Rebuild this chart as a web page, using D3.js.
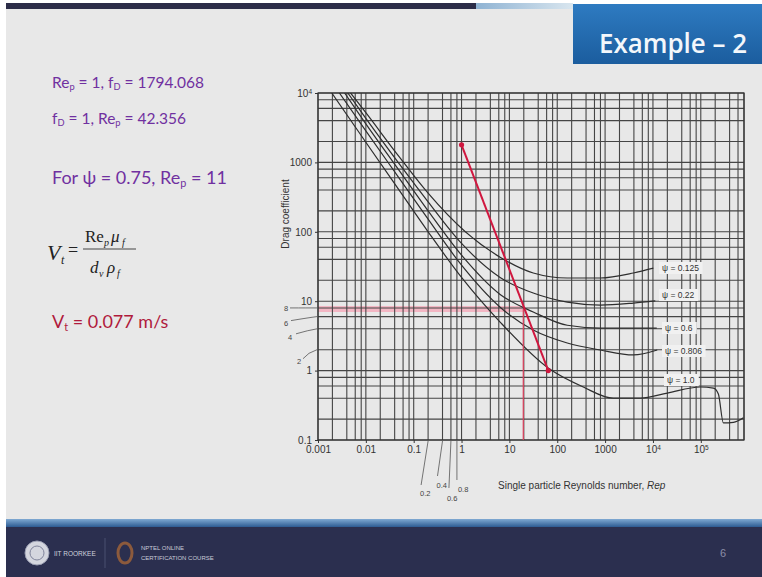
<!DOCTYPE html>
<html>
<head>
<meta charset="utf-8">
<script src="https://cdn.jsdelivr.net/npm/d3@7"></script>
<style>
  body { margin: 0; background: #fff; }
  svg { display: block; font-family: "Liberation Sans", Arial, sans-serif; }
</style>
</head>
<body>
<svg id="slide" width="762" height="577"></svg>
<script>
// axis ticks
const xTicks = [0.001, 0.01, 0.1, 1, 10, 100, 1000, 1e4, 1e5];
const xTickLabels = ["0.001", "0.01", "0.1", "1", "10", "100", "1000", "10^4", "10^5"];
const yTicks = [0.1, 1, 10, 100, 1000, 1e4];
const yTickLabels = ["0.1", "1", "10", "100", "1000", "10^4"];
const gridSteps = [1, 2, 4, 6, 8];
const yMinorMarks = [8, 6, 4, 2];
const xMinorMarks = [0.2, 0.4, 0.6, 0.8];

// drag curves (Re, Cd)
const psiLabels = ["\u03c8 = 0.125", "\u03c8 = 0.22", "\u03c8 = 0.6", "\u03c8 = 0.806", "\u03c8 = 1.0"];
const rePsi0125 = [0.0048, 0.01, 0.05, 0.2, 1.2, 6.4, 31.5, 162, 795, 3900, 10200];
const cdPsi0125 = [10000, 5200, 1200, 360, 100, 43, 25.5, 21.6, 21.6, 25.5, 30];
const rePsi022 = [0.0042, 0.01, 0.05, 0.2, 1, 6.4, 31.5, 162, 795, 3900, 11200];
const cdPsi022 = [10000, 4300, 950, 270, 68, 22, 13.1, 9.7, 8.8, 9.4, 10.1];
const rePsi06 = [0.0036, 0.01, 0.05, 0.2, 1, 6.4, 31.5, 162, 795, 3900, 12000];
const cdPsi06 = [10000, 3600, 760, 200, 46, 12.5, 7.0, 4.5, 4.1, 4.1, 4.1];
const rePsi0806 = [0.0028, 0.01, 0.05, 0.2, 1, 6.4, 31.5, 162, 795, 3900, 12300];
const cdPsi0806 = [10000, 2850, 590, 152, 33, 8.2, 3.85, 2.5, 1.98, 1.68, 1.98];
const rePsi1 = [0.00194, 0.01, 0.05, 0.2, 1, 6.4, 65.8, 350, 1490, 5480, 20000, 98000, 184000, 233000, 297000, 481000, 778000];
const cdPsi1 = [10000, 1950, 395, 100, 22, 5.0, 1.08, 0.58, 0.40, 0.40, 0.475, 0.58, 0.56, 0.46, 0.176, 0.18, 0.21];

// red construction lines
const arrowRe = [1, 65];
const arrowCd = [1794.068, 1.0];
const guideCd = 7.7;
const guideRe = 19.5;

const svg = d3.select("#slide");
const defs = svg.append("defs");

// ---- slide frame ----
svg.append("rect").attr("width", 762).attr("height", 577).attr("fill", "#fff");
svg.append("rect").attr("x", 6).attr("y", 8).attr("width", 756).attr("height", 513).attr("fill", "#e8e8e8");
svg.append("rect").attr("x", 6).attr("y", 3).attr("width", 470).attr("height", 6).attr("fill", "#2c2d48");
const topGlow = defs.append("linearGradient").attr("id", "topGlow");
topGlow.append("stop").attr("offset", 0).attr("stop-color", "#8fb3d3");
topGlow.append("stop").attr("offset", 1).attr("stop-color", "#d9e6ef");
svg.append("rect").attr("x", 476).attr("y", 3).attr("width", 97).attr("height", 6).attr("fill", "url(#topGlow)");

const titleGrad = defs.append("linearGradient").attr("id", "titleGrad").attr("x2", 0).attr("y2", 1);
titleGrad.append("stop").attr("offset", 0).attr("stop-color", "#2e7bc1");
titleGrad.append("stop").attr("offset", 1).attr("stop-color", "#1b5d9e");
svg.append("rect").attr("x", 573).attr("y", 4).attr("width", 189).attr("height", 60).attr("fill", "url(#titleGrad)");
svg.append("text").attr("x", 599).attr("y", 53)
    .attr("font-family", "'Open Sans', sans-serif").attr("font-weight", 600).attr("font-size", 27)
    .attr("fill", "#f3f7fb").attr("textLength", 148).attr("lengthAdjust", "spacingAndGlyphs")
    .text("Example \u2013 2");

// ---- footer ----
const footGrad = defs.append("linearGradient").attr("id", "footGrad").attr("x2", 0).attr("y2", 1);
footGrad.append("stop").attr("offset", 0).attr("stop-color", "#7fa9d2");
footGrad.append("stop").attr("offset", 1).attr("stop-color", "#2d5b92");
svg.append("rect").attr("x", 6).attr("y", 519).attr("width", 756).attr("height", 8).attr("fill", "url(#footGrad)");
svg.append("rect").attr("x", 6).attr("y", 527).attr("width", 756).attr("height", 50).attr("fill", "#2b2f4f");
svg.append("circle").attr("cx", 37).attr("cy", 553).attr("r", 12).attr("fill", "#d4d6de").attr("stroke", "#9a9eb2");
svg.append("circle").attr("cx", 37).attr("cy", 553).attr("r", 7).attr("fill", "none").attr("stroke", "#80849b");
svg.append("text").attr("x", 54).attr("y", 556).attr("font-size", 6.5).attr("fill", "#d0d2de").text("IIT ROORKEE");
svg.append("line").attr("x1", 105).attr("x2", 105).attr("y1", 538).attr("y2", 568).attr("stroke", "#4b5070");
svg.append("ellipse").attr("cx", 125).attr("cy", 553).attr("rx", 7).attr("ry", 10).attr("fill", "none").attr("stroke", "#8c5a3c").attr("stroke-width", 3);
svg.append("text").attr("x", 141).attr("y", 550).attr("font-size", 6).attr("fill", "#c9cbd8").text("NPTEL ONLINE");
svg.append("text").attr("x", 141).attr("y", 560).attr("font-size", 6).attr("fill", "#c9cbd8").text("CERTIFICATION COURSE");
svg.append("text").attr("x", 720).attr("y", 557).attr("font-size", 11).attr("fill", "#8b8ea8").text("6");

// ---- left text ----
const purple = "#7030a0";
const body = svg.append("g").attr("font-family", "Lato, 'Open Sans', sans-serif");

function subText(xp, yb, size, color, parts) {
  const t = body.append("text").attr("x", xp).attr("y", yb).attr("font-size", size).attr("fill", color);
  parts.forEach(p => {
    const s = t.append("tspan").text(p[0]);
    if (p[1]) s.attr("font-size", size * 0.6).attr("baseline-shift", "-25%");
  });
  return t;
}
subText(52, 88, 15.5, purple, [["Re"], ["p", 1], [" = 1, f"], ["D", 1], [" = 1794.068"]]);
subText(52, 124, 15.5, purple, [["f"], ["D", 1], [" = 1, Re"], ["p", 1], [" = 42.356"]]);
subText(52, 184, 18, purple, [["For \u03c8 = 0.75, Re"], ["p", 1], [" = 11"]]);
subText(52, 328, 18, "#b01a3c", [["V"], ["t", 1], [" = 0.077 m/s"]]);

// formula
const f = svg.append("g").attr("font-family", "'Liberation Serif', 'DejaVu Serif', serif").attr("fill", "#222");
f.append("text").attr("x", 47).attr("y", 260).attr("font-size", 22).attr("font-style", "italic").text("V");
f.append("text").attr("x", 61).attr("y", 264).attr("font-size", 12).attr("font-style", "italic").text("t");
f.append("text").attr("x", 68).attr("y", 256).attr("font-size", 18).text("=");
f.append("line").attr("x1", 83).attr("x2", 136).attr("y1", 249).attr("y2", 249).attr("stroke", "#444").attr("stroke-width", 1);
f.append("text").attr("x", 85).attr("y", 242).attr("font-size", 17).text("Re");
f.append("text").attr("x", 104).attr("y", 246).attr("font-size", 10).attr("font-style", "italic").text("p");
f.append("text").attr("x", 111).attr("y", 242).attr("font-size", 17).attr("font-style", "italic").text("\u03bc");
f.append("text").attr("x", 122).attr("y", 246).attr("font-size", 10).attr("font-style", "italic").text("f");
f.append("text").attr("x", 90).attr("y", 273).attr("font-size", 17).attr("font-style", "italic").text("d");
f.append("text").attr("x", 99).attr("y", 277).attr("font-size", 10).attr("font-style", "italic").text("v");
f.append("text").attr("x", 107).attr("y", 273).attr("font-size", 17).attr("font-style", "italic").text("\u03c1");
f.append("text").attr("x", 117).attr("y", 277).attr("font-size", 10).attr("font-style", "italic").text("f");

// ---- chart ----
const x = d3.scaleLog().domain([1e-3, 8e5]).range([318, 744]);
const y = d3.scaleLog().domain([0.1, 1e4]).range([440, 93]);
const [x0, x1] = x.range();
const [y0, y1] = y.range();

defs.append("clipPath").attr("id", "plotClip")
  .append("rect").attr("x", x0).attr("y", y1).attr("width", x1 - x0).attr("height", y0 - y1);

const chart = svg.append("g");

// pink guide band sits under the grid
chart.append("line")
  .attr("x1", x0).attr("x2", x(guideRe))
  .attr("y1", y(guideCd)).attr("y2", y(guideCd))
  .attr("stroke", "#f2b6c3").attr("stroke-width", 6);

const gridX = [], gridY = [];
for (let e = -3; e <= 6; e++) gridSteps.forEach(m => {
  const v = m * Math.pow(10, e);
  if (v >= 1e-3 && v <= 8e5) gridX.push(v);
  if (v >= 0.1 && v <= 1e4) gridY.push(v);
});
const grid = chart.append("g").attr("stroke", "#454545").attr("stroke-width", 1.1);
grid.selectAll(".gx").data(gridX).join("line")
  .attr("x1", d => x(d)).attr("x2", d => x(d)).attr("y1", y1).attr("y2", y0);
grid.selectAll(".gy").data(gridY).join("line")
  .attr("y1", d => y(d)).attr("y2", d => y(d)).attr("x1", x0).attr("x2", x1);

chart.append("rect").attr("x", x0).attr("y", y1).attr("width", x1 - x0).attr("height", y0 - y1)
  .attr("fill", "none").attr("stroke", "#333").attr("stroke-width", 1.2);

// axes
function powerLabel(sel, labels) {
  sel.selectAll(".tick text").each(function (d, i) {
    const s = labels[i], t = d3.select(this);
    if (s.includes("^")) {
      const [b, p] = s.split("^");
      t.text(b);
      t.append("tspan").attr("font-size", 6.5).attr("baseline-shift", "super").text(p);
    } else t.text(s);
  });
}
const xAxis = chart.append("g").attr("transform", `translate(0,${y0})`)
  .call(d3.axisBottom(x).tickValues(xTicks).tickSize(3).tickPadding(3));
const yAxis = chart.append("g").attr("transform", `translate(${x0},0)`)
  .call(d3.axisLeft(y).tickValues(yTicks).tickSize(3).tickPadding(3));
powerLabel(xAxis, xTickLabels);
powerLabel(yAxis, yTickLabels);
[xAxis, yAxis].forEach(a => {
  a.select(".domain").remove();
  a.selectAll("text").attr("font-size", 10).attr("fill", "#333").attr("font-family", "'Liberation Sans', Arial, sans-serif");
  a.selectAll("line").attr("stroke", "#333");
});

// minor mark labels with leaders
const minor = chart.append("g").attr("font-size", 7.5).attr("fill", "#444");
const yLeadOff = [[-34, 1, -28, 0], [-34, 7, -27, 4], [-30, 9, -22, 5], [-21, 12, -15, 9]];
yMinorMarks.forEach((v, i) => {
  const o = yLeadOff[i], yy = y(v);
  minor.append("path")
    .attr("d", `M${x0 + o[2]},${yy + o[3]} Q${x0 - 10},${yy + o[3] * 0.3} ${x0 - 1},${yy}`)
    .attr("fill", "none").attr("stroke", "#555").attr("stroke-width", 0.8);
  minor.append("text").attr("x", x0 + o[0]).attr("y", yy + o[1] + 2.5).text(v);
});
const xLeadOff = [[-8, 50, -7, 45], [-6, 42, -5, 36], [-4, 55, -2, 48], [1, 46, 0, 40]];
xMinorMarks.forEach((v, i) => {
  const o = xLeadOff[i], xx = x(v);
  minor.append("line").attr("x1", xx).attr("y1", y0 + 1).attr("x2", xx + o[2]).attr("y2", y0 + o[3])
    .attr("stroke", "#555").attr("stroke-width", 0.8);
  minor.append("text").attr("x", xx + o[0]).attr("y", y0 + o[1] + 6).text(v);
});

// axis titles
chart.append("text").attr("transform", `translate(289,214) rotate(-90)`).attr("text-anchor", "middle")
  .attr("font-size", 10).attr("fill", "#333").text("Drag coefficient");
const xt = chart.append("text").attr("x", 498).attr("y", 489).attr("font-size", 10).attr("fill", "#333");
xt.append("tspan").text("Single particle Reynolds number, ");
xt.append("tspan").attr("font-style", "italic").text("Rep");

// curves
const curves = [
  [rePsi0125, cdPsi0125], [rePsi022, cdPsi022], [rePsi06, cdPsi06], [rePsi0806, cdPsi0806], [rePsi1, cdPsi1]
].map(([re, cd]) => re.map((r, i) => [r, cd[i]]));
const line = d3.line().x(d => x(d[0])).y(d => y(d[1])).curve(d3.curveMonotoneX);
chart.append("g").attr("clip-path", "url(#plotClip)")
  .selectAll("path").data(curves).join("path")
  .attr("d", line).attr("fill", "none").attr("stroke", "#2e2e2e").attr("stroke-width", 1.2);

// curve labels
const labelPos = [[662, 271], [662, 298], [665, 331], [665, 354], [667, 383]];
const lab = chart.append("g").attr("font-size", 8.5).attr("fill", "#333");
psiLabels.forEach((t, i) => {
  const [lx, ly] = labelPos[i];
  const w = t.length * 4.4 + 4;
  lab.append("rect").attr("x", lx - 3).attr("y", ly - 9).attr("width", w).attr("height", 12).attr("fill", "#f1f1f1");
  lab.append("text").attr("x", lx).attr("y", ly).text(t);
});

// red construction lines
chart.append("line")
  .attr("x1", x(guideRe)).attr("x2", x(guideRe))
  .attr("y1", y(guideCd)).attr("y2", y0)
  .attr("stroke", "#e0425f").attr("stroke-width", 1.2);
const arrow = arrowRe.map((r, i) => [x(r), y(arrowCd[i])]);
chart.append("line")
  .attr("x1", arrow[0][0]).attr("y1", arrow[0][1]).attr("x2", arrow[1][0]).attr("y2", arrow[1][1])
  .attr("stroke", "#d0173f").attr("stroke-width", 2);
chart.selectAll(".endDot").data(arrow).join("circle")
  .attr("cx", d => d[0]).attr("cy", d => d[1]).attr("r", 2.6).attr("fill", "#d0173f");
</script>
</body>
</html>
